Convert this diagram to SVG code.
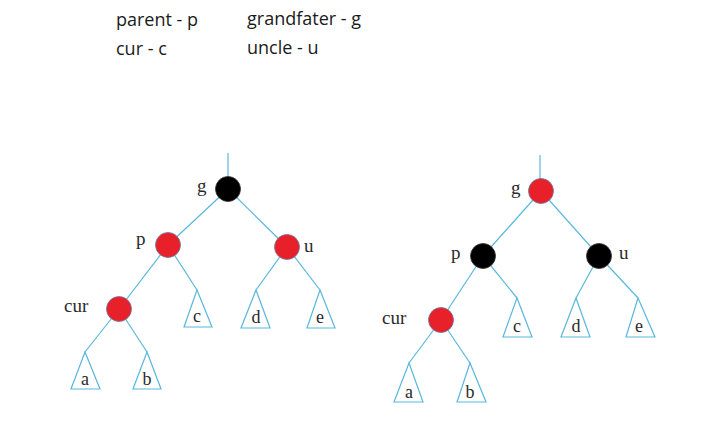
<svg xmlns="http://www.w3.org/2000/svg" width="708" height="445" viewBox="0 0 708 445">
<style>
.hdr{font-family:"Open Sans","Noto Sans","Liberation Sans",sans-serif;font-size:18px;fill:#1a1a1a}
.lbl{font-family:"Liberation Serif","DejaVu Serif",serif;font-size:19px;fill:#2a2a2a}
.tl{font-family:"Liberation Serif","DejaVu Serif",serif;font-size:18px;fill:#2a2a2a;text-anchor:middle}
.edge{stroke:#5ab7dc;stroke-width:1.2;fill:none}
.tri{stroke:#5ab7dc;stroke-width:1.2;fill:#fff}
.red{fill:#e8202a;stroke:#6a7aa0;stroke-width:0.8}
.blk{fill:#000;stroke:#333;stroke-width:0.8}
</style>
<rect width="708" height="445" fill="#fff"/>
<g id="legend">
<text class="hdr" x="116" y="26">parent - p</text>
<text class="hdr" x="247" y="25">grandfater - g</text>
<text class="hdr" x="116" y="55">cur - c</text>
<text class="hdr" x="247" y="54">uncle - u</text>
</g>
<g id="connectors">
<line class="edge" x1="228" y1="153" x2="228" y2="189"/>
<line class="edge" x1="228" y1="189" x2="168" y2="245"/>
<line class="edge" x1="228" y1="189" x2="287" y2="247"/>
<line class="edge" x1="168" y1="245" x2="119" y2="309"/>
<line class="edge" x1="168" y1="245" x2="197" y2="290"/>
<line class="edge" x1="287" y1="247" x2="256" y2="290"/>
<line class="edge" x1="287" y1="247" x2="320" y2="290"/>
<line class="edge" x1="119" y1="309" x2="85" y2="352"/>
<line class="edge" x1="119" y1="309" x2="147" y2="352"/>
<line class="edge" x1="540" y1="155" x2="540" y2="191"/>
<line class="edge" x1="541" y1="191" x2="483" y2="256"/>
<line class="edge" x1="541" y1="191" x2="599" y2="256"/>
<line class="edge" x1="483" y1="256" x2="441" y2="320"/>
<line class="edge" x1="483" y1="256" x2="517" y2="298"/>
<line class="edge" x1="599" y1="256" x2="576" y2="298"/>
<line class="edge" x1="599" y1="256" x2="638" y2="298"/>
<line class="edge" x1="441" y1="320" x2="409" y2="363"/>
<line class="edge" x1="441" y1="320" x2="470" y2="363"/>
</g>
<g id="L-g"><circle class="blk" cx="228" cy="189" r="12.5"/><text class="lbl" x="197" y="192">g</text></g>
<g id="L-p"><circle class="red" cx="168" cy="245" r="12.5"/><text class="lbl" x="136" y="245">p</text></g>
<g id="L-u"><circle class="red" cx="287" cy="247" r="12.5"/><text class="lbl" x="304" y="252">u</text></g>
<g id="L-cur"><circle class="red" cx="119" cy="309" r="12.5"/><text class="lbl" x="64" y="312">cur</text></g>
<g id="L-a"><polygon class="tri" points="85,352 71,389 100,389"/><text class="tl" x="85" y="385">a</text></g>
<g id="L-b"><polygon class="tri" points="147,352 133,389 161,389"/><text class="tl" x="147" y="385">b</text></g>
<g id="L-c"><polygon class="tri" points="197,290 184,327 212,327"/><text class="tl" x="197" y="322">c</text></g>
<g id="L-d"><polygon class="tri" points="256,290 241,328 270,328"/><text class="tl" x="256" y="323">d</text></g>
<g id="L-e"><polygon class="tri" points="320,290 307,328 335,328"/><text class="tl" x="320" y="323">e</text></g>
<g id="R-g"><circle class="red" cx="541" cy="191" r="12.5"/><text class="lbl" x="511" y="194">g</text></g>
<g id="R-p"><circle class="blk" cx="483" cy="256" r="12.5"/><text class="lbl" x="451" y="259">p</text></g>
<g id="R-u"><circle class="blk" cx="599" cy="256" r="12.5"/><text class="lbl" x="619" y="259">u</text></g>
<g id="R-cur"><circle class="red" cx="441" cy="320" r="12.5"/><text class="lbl" x="382" y="324">cur</text></g>
<g id="R-a"><polygon class="tri" points="409,363 394,402 423,402"/><text class="tl" x="409" y="398">a</text></g>
<g id="R-b"><polygon class="tri" points="470,363 457,402 486,402"/><text class="tl" x="470" y="398">b</text></g>
<g id="R-c"><polygon class="tri" points="517,298 503,337 532,337"/><text class="tl" x="517" y="332">c</text></g>
<g id="R-d"><polygon class="tri" points="576,298 561,337 590,337"/><text class="tl" x="576" y="332">d</text></g>
<g id="R-e"><polygon class="tri" points="638,298 626,337 655,337"/><text class="tl" x="639" y="332">e</text></g>
</svg>
